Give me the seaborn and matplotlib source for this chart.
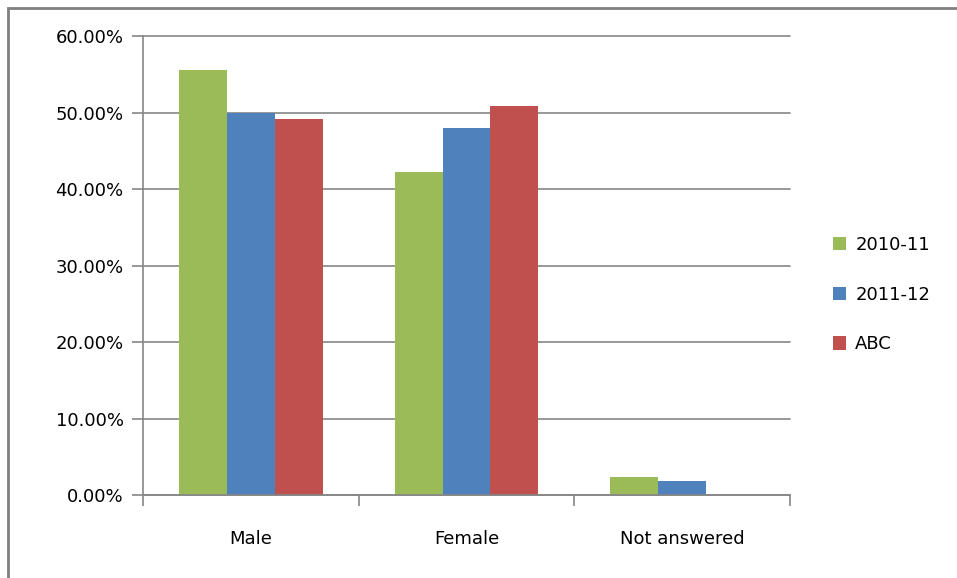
import matplotlib
matplotlib.use("Agg")
import matplotlib.pyplot as plt
import matplotlib.ticker as mticker
from matplotlib.patches import Rectangle
import seaborn as sns
import pandas as pd

categories = ["Male", "Female", "Not answered"]
series_names = ["2010-11", "2011-12", "ABC"]
values_2010_11 = [55.56, 42.2, 2.35]
values_2011_12 = [50.0, 48.0, 1.83]
values_abc = [49.1, 50.85, 0.0]
colors = ["#9BBB59", "#4F81BD", "#C0504D"]

rows = []
for name, vals in zip(series_names, [values_2010_11, values_2011_12, values_abc]):
    for cat, v in zip(categories, vals):
        rows.append({"Category": cat, "Series": name, "Value": v})
df = pd.DataFrame(rows)

sns.set_style("white")
plt.rcParams["font.family"] = ["DejaVu Sans"]
plt.rcParams["text.color"] = "black"
plt.rcParams["xtick.labelcolor"] = "black"
plt.rcParams["ytick.labelcolor"] = "black"

fig = plt.figure(figsize=(9.57, 5.78), dpi=100)
ax = fig.add_axes([0.1494, 0.1436, 0.8255 - 0.1494, 0.9377 - 0.1436])

sns.barplot(data=df, x="Category", y="Value", hue="Series", order=categories,
            hue_order=series_names, palette=colors, width=0.667, linewidth=0,
            saturation=1, ax=ax, legend=True)

grid_c = "#868686"
ax.set_ylim(0, 60)
ax.set_xlim(-0.5, 2.5)
ax.yaxis.set_major_locator(mticker.MultipleLocator(10))
ax.yaxis.set_major_formatter(mticker.FuncFormatter(lambda v, p: f"{v:.2f}%"))
ax.grid(axis="y", color=grid_c, linewidth=1.2)
for gl in ax.get_ygridlines():
    gl.set_clip_on(False)
ax.set_axisbelow(True)
for s in ["top", "right"]:
    ax.spines[s].set_visible(False)
for s in ["left", "bottom"]:
    ax.spines[s].set_color(grid_c)
    ax.spines[s].set_linewidth(1.2)
ax.set_xlabel("")
ax.set_ylabel("")
ax.tick_params(axis="y", length=8, width=1.2, color=grid_c, labelsize=13, pad=6, left=True)
ax.tick_params(axis="x", length=0, labelsize=13, pad=25)
ax.set_xticks([-0.5, 0.5, 1.5, 2.5], minor=True)
ax.tick_params(axis="x", which="minor", length=8, width=1.2, color=grid_c, bottom=True)

handles, labels = ax.get_legend_handles_labels()
ax.legend(handles, labels, loc="center left", bbox_to_anchor=(0.853, 0.49),
          bbox_transform=fig.transFigure, frameon=False, fontsize=13,
          handlelength=0.75, handleheight=0.75, handletextpad=0.5,
          labelspacing=1.75)

# outer chart frame
fig.patches.append(Rectangle((8 / 957, -0.01), 1.0, 1 - 8 / 578 + 0.01,
                             transform=fig.transFigure, fill=False,
                             edgecolor="#808080", linewidth=2))

fig.savefig("out.png", dpi=100)
